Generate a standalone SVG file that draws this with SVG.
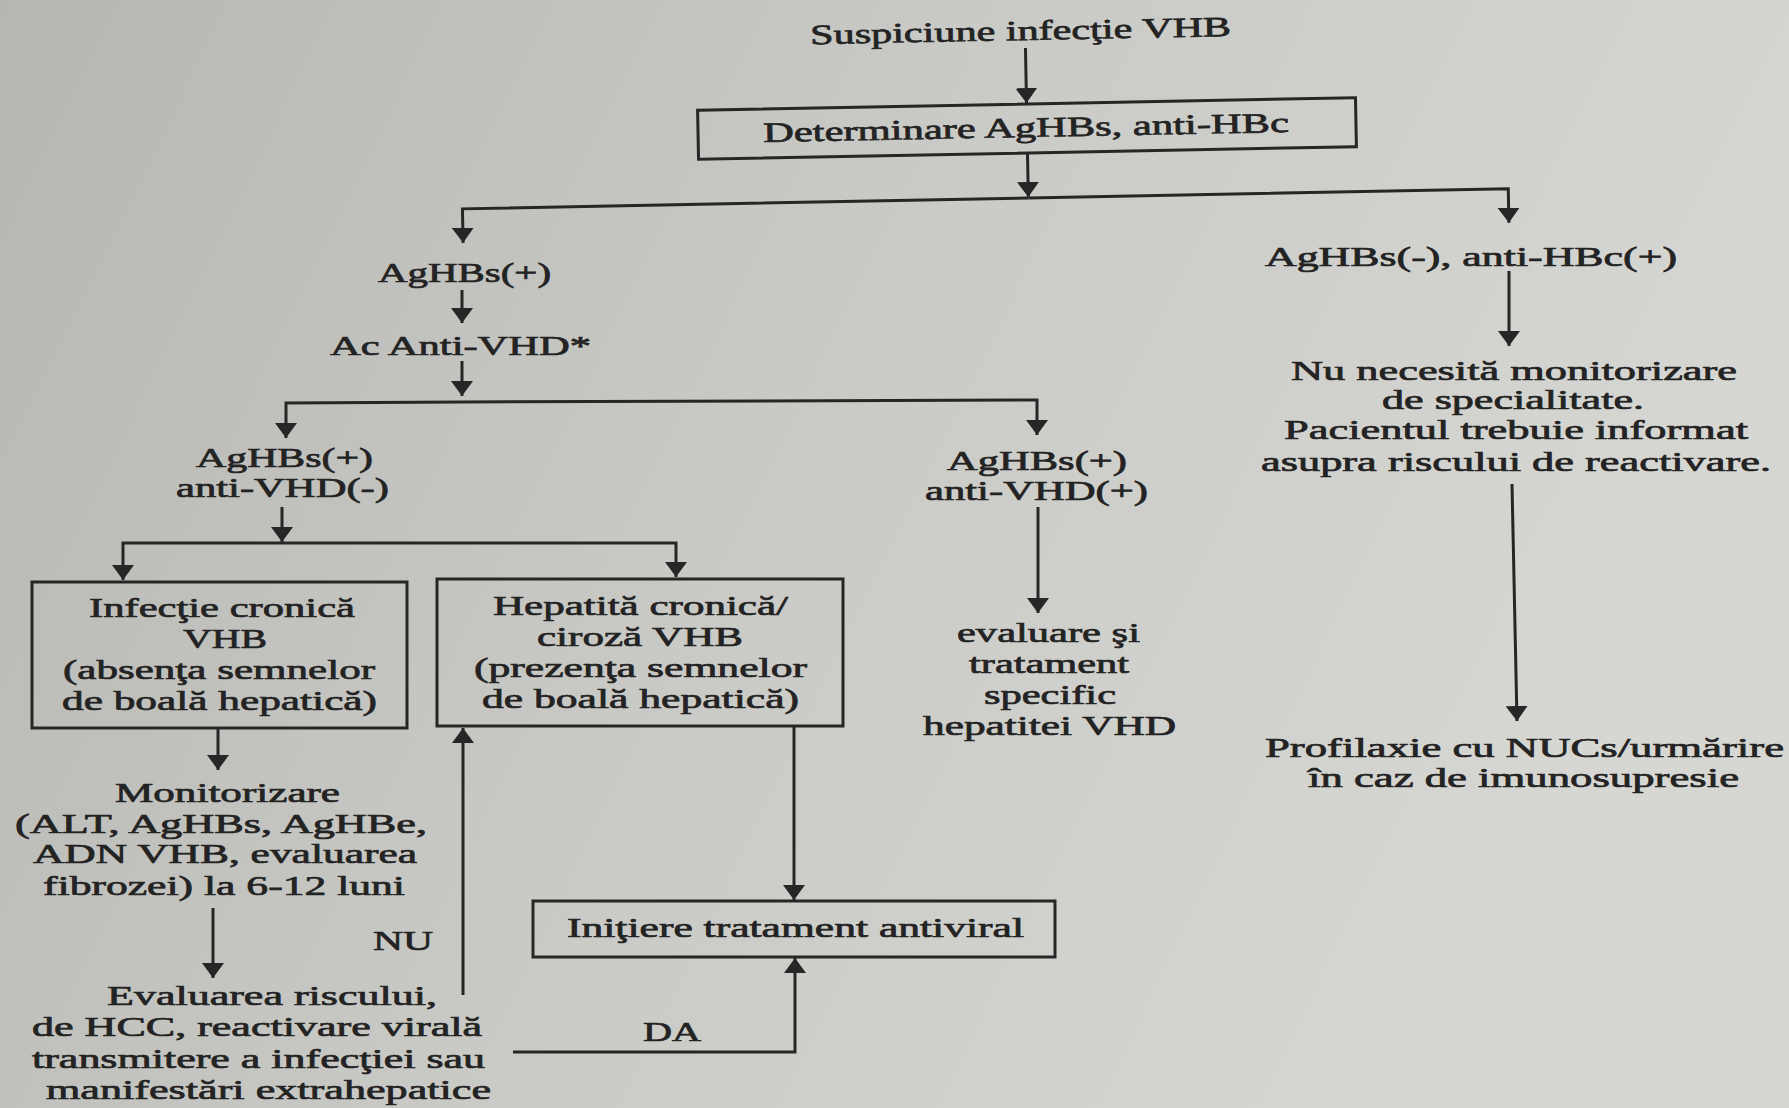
<svg xmlns="http://www.w3.org/2000/svg" width="1789" height="1108" viewBox="0 0 1789 1108">
<defs>
<linearGradient id="bg" x1="0" y1="0" x2="1" y2="0.3">
<stop offset="0" stop-color="#b6b6b2"/>
<stop offset="0.5" stop-color="#c9c9c5"/>
<stop offset="1" stop-color="#d6d6d2"/>
</linearGradient>
<marker id="ah" viewBox="0 0 15 22" refX="15" refY="11" markerWidth="15" markerHeight="22" markerUnits="userSpaceOnUse" orient="auto">
<path d="M0,0 L15,11 L0,22 Z" fill="#262626"/>
</marker>
<style>
.t{font-family:"Liberation Serif","Times New Roman",serif;font-size:28px;fill:#232323;stroke:#232323;stroke-width:0.7}
.c{stroke:#262626;stroke-width:3;fill:none}
.a{marker-end:url(#ah)}
.b{stroke:#262626;stroke-width:3;fill:none}
</style>
</defs>
<rect x="0" y="0" width="1789" height="1108" fill="url(#bg)"/>

<g id="connectors">
<g transform="rotate(-1.1 1027 128)">
<path class="c a" d="M1027,48 V103"/>
<path class="c a" d="M1027,153 V197"/>
<path class="c a" d="M1027,198 H461 V232"/>
<path class="c a" d="M1027,198 H1507 V232"/>
</g>
<path class="c a" d="M462,290 V323"/>
<path class="c a" d="M462,361 V396"/>
<path class="c a" d="M462,402 L286,403 V438"/>
<path class="c a" d="M462,402 L1037,400 V435"/>
<path class="c a" d="M282,507 V542"/>
<path class="c a" d="M282,543 H123 V580"/>
<path class="c a" d="M282,543 H676 V577"/>
<path class="c a" d="M218,728 V770"/>
<path class="c a" d="M213,908 V978"/>
<path class="c a" d="M463,995 V728"/>
<path class="c a" d="M794,726 V900"/>
<path class="c a" d="M513,1052 H795 V958"/>
<path class="c a" d="M1038,507 V613"/>
<path class="c a" d="M1509,271 V346"/>
<path class="c a" d="M1512,484 L1517,721"/>
</g>

<g transform="rotate(-1.1 1027 128)">
<g id="n-suspiciune">
<text class="t" x="812" y="40" textLength="421" lengthAdjust="spacingAndGlyphs">Suspiciune infecţie VHB</text>
</g>
<g id="n-determinare">
<rect class="b" x="698" y="104" width="658" height="49"/>
<text class="t" x="763" y="137" textLength="526" lengthAdjust="spacingAndGlyphs">Determinare AgHBs, anti-HBc</text>
</g>
</g>

<g id="n-aghbs-pos">
<text class="t" x="378" y="282" textLength="173" lengthAdjust="spacingAndGlyphs">AgHBs(+)</text>
</g>
<g id="n-ac-anti-vhd">
<text class="t" x="330" y="355" textLength="261" lengthAdjust="spacingAndGlyphs">Ac Anti-VHD*</text>
</g>
<g id="n-aghbs-neg">
<text class="t" x="1265" y="266" textLength="412" lengthAdjust="spacingAndGlyphs">AgHBs(-), anti-HBc(+)</text>
</g>
<g id="n-vhd-neg">
<text class="t" x="196" y="467" textLength="177" lengthAdjust="spacingAndGlyphs">AgHBs(+)</text>
<text class="t" x="176" y="497" textLength="213" lengthAdjust="spacingAndGlyphs">anti-VHD(-)</text>
</g>
<g id="n-vhd-pos">
<text class="t" x="947" y="470" textLength="180" lengthAdjust="spacingAndGlyphs">AgHBs(+)</text>
<text class="t" x="925" y="500" textLength="223" lengthAdjust="spacingAndGlyphs">anti-VHD(+)</text>
</g>
<g id="n-nu-necesita">
<text class="t" x="1291" y="380" textLength="446" lengthAdjust="spacingAndGlyphs">Nu necesită monitorizare</text>
<text class="t" x="1382" y="409" textLength="262" lengthAdjust="spacingAndGlyphs">de specialitate.</text>
<text class="t" x="1284" y="439" textLength="464" lengthAdjust="spacingAndGlyphs">Pacientul trebuie informat</text>
<text class="t" x="1261" y="471" textLength="510" lengthAdjust="spacingAndGlyphs">asupra riscului de reactivare.</text>
</g>
<g id="n-evaluare-vhd">
<text class="t" x="957" y="642" textLength="183" lengthAdjust="spacingAndGlyphs">evaluare şi</text>
<text class="t" x="969" y="673" textLength="160" lengthAdjust="spacingAndGlyphs">tratament</text>
<text class="t" x="984" y="704" textLength="132" lengthAdjust="spacingAndGlyphs">specific</text>
<text class="t" x="923" y="735" textLength="253" lengthAdjust="spacingAndGlyphs">hepatitei VHD</text>
</g>
<g id="n-profilaxie">
<text class="t" x="1265" y="757" textLength="519" lengthAdjust="spacingAndGlyphs">Profilaxie cu NUCs/urmărire</text>
<text class="t" x="1308" y="787" textLength="431" lengthAdjust="spacingAndGlyphs">în caz de imunosupresie</text>
</g>
<g id="n-infectie-cronica">
<rect class="b" x="32" y="582" width="375" height="146"/>
<text class="t" x="89" y="617" textLength="266" lengthAdjust="spacingAndGlyphs">Infecţie cronică</text>
<text class="t" x="183" y="648" textLength="84" lengthAdjust="spacingAndGlyphs">VHB</text>
<text class="t" x="63" y="679" textLength="312" lengthAdjust="spacingAndGlyphs">(absenţa semnelor</text>
<text class="t" x="62" y="710" textLength="315" lengthAdjust="spacingAndGlyphs">de boală hepatică)</text>
</g>
<g id="n-hepatita-cronica">
<rect class="b" x="437" y="579" width="406" height="147"/>
<text class="t" x="493" y="615" textLength="295" lengthAdjust="spacingAndGlyphs">Hepatită cronică/</text>
<text class="t" x="537" y="646" textLength="206" lengthAdjust="spacingAndGlyphs">ciroză VHB</text>
<text class="t" x="474" y="677" textLength="333" lengthAdjust="spacingAndGlyphs">(prezenţa semnelor</text>
<text class="t" x="482" y="708" textLength="317" lengthAdjust="spacingAndGlyphs">de boală hepatică)</text>
</g>
<g id="n-monitorizare">
<text class="t" x="115" y="802" textLength="225" lengthAdjust="spacingAndGlyphs">Monitorizare</text>
<text class="t" x="15" y="833" textLength="412" lengthAdjust="spacingAndGlyphs">(ALT, AgHBs, AgHBe,</text>
<text class="t" x="33" y="863" textLength="384" lengthAdjust="spacingAndGlyphs">ADN VHB, evaluarea</text>
<text class="t" x="43" y="895" textLength="362" lengthAdjust="spacingAndGlyphs">fibrozei) la 6-12 luni</text>
</g>
<g id="l-nu">
<text class="t" x="373" y="950" textLength="60" lengthAdjust="spacingAndGlyphs">NU</text>
</g>
<g id="n-evaluarea-riscului">
<text class="t" x="107" y="1005" textLength="330" lengthAdjust="spacingAndGlyphs">Evaluarea riscului,</text>
<text class="t" x="32" y="1036" textLength="450" lengthAdjust="spacingAndGlyphs">de HCC, reactivare virală</text>
<text class="t" x="32" y="1068" textLength="453" lengthAdjust="spacingAndGlyphs">transmitere a infecţiei sau</text>
<text class="t" x="46" y="1099" textLength="445" lengthAdjust="spacingAndGlyphs">manifestări extrahepatice</text>
</g>
<g id="n-initiere">
<rect class="b" x="533" y="901" width="522" height="56"/>
<text class="t" x="567" y="937" textLength="457" lengthAdjust="spacingAndGlyphs">Iniţiere tratament antiviral</text>
</g>
<g id="l-da">
<text class="t" x="643" y="1041" textLength="58" lengthAdjust="spacingAndGlyphs">DA</text>
</g>
</svg>
